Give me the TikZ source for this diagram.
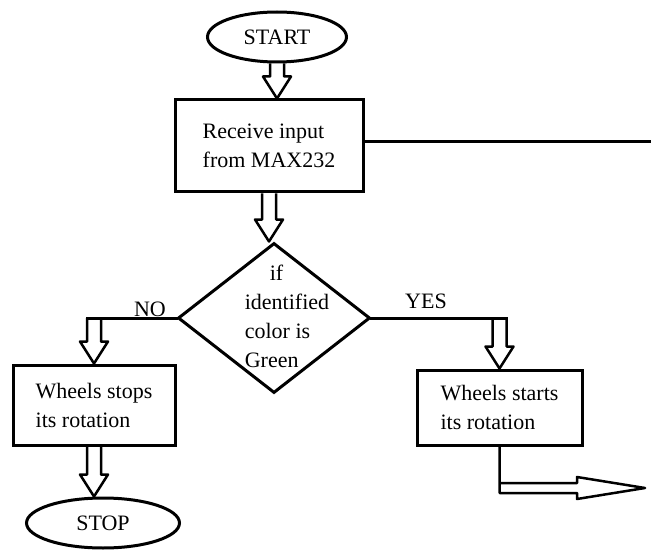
\documentclass[tikz,border=0pt]{standalone}
\usepackage{fontspec}
\setmainfont{Liberation Serif}
\usetikzlibrary{shapes.geometric,calc}
\newcommand\blkdown[2]{\draw[blk] let \p1=(#1),\p2=(#2) in (\x1-7pt,\y1) -- (\x1-7pt,\y2+22pt) -- (\x1-14pt,\y2+22pt) -- (\x1,\y2) -- (\x1+14pt,\y2+22pt) -- (\x1+7pt,\y2+22pt) -- (\x1+7pt,\y1);}
\begin{document}
\begin{tikzpicture}[x=1pt,y=-1pt,
  every node/.style={font=\fontsize{22}{29}\selectfont},
  term/.style={ellipse,draw,line width=3pt,inner sep=0pt},
  proc/.style={rectangle,draw,line width=3pt,align=left,inner sep=0pt},
  dec/.style={diamond,draw,line width=3pt,inner sep=0pt},
  lbl/.style={inner sep=0pt},
  wire/.style={line width=3pt,line cap=rect},
  blk/.style={line width=2.5pt,line join=round}]
\useasboundingbox (0,0) rectangle (651,559);
% nodes
\node[term,minimum width=139pt,minimum height=50pt] (start) at (277,37) {START};
\node[proc,minimum width=188pt,minimum height=92pt] (recv) at (269,146) {Receive input\\from MAX232};
\node[dec,minimum width=192pt,minimum height=150pt] (dec) at (274,318) {};
\node[lbl,align=left] (dtext) at (287,316) {\hspace*{25pt}if\\identified\\color is\\Green};
\node[proc,minimum width=162pt,minimum height=80pt] (stopbox) at (94,405) {Wheels stops\\its rotation};
\node[proc,minimum width=165pt,minimum height=75pt] (gobox) at (499.5,407.5) {Wheels starts\\its rotation};
\node[term,minimum width=153pt,minimum height=50pt] (stop) at (103,523) {STOP};
\node[lbl,anchor=base] (no) at (150,316) {NO};
\node[lbl,anchor=base] (yes) at (426,308) {YES};
% connectors
\blkdown{start.south}{recv.north}
\blkdown{recv.south}{dec.north}
\coordinate (rend) at (651,142);
\draw[wire] (recv.east |- rend) -- (rend);
\coordinate (nocorner) at (stopbox.north |- dec.west);
\draw[wire] (dec.west) -- ($(nocorner)+(-7,0)$);
\blkdown{nocorner}{stopbox.north}
\coordinate (yescorner) at (gobox.north |- dec.east);
\draw[wire] (dec.east) -- ($(yescorner)+(7,0)$);
\blkdown{yescorner}{gobox.north}
\blkdown{stopbox.south}{stop.north}
\coordinate (goend) at (645,488);
\draw[blk] let \p1=(gobox.south),\p2=(goend) in (\p1) -- (\x1,\y2-5pt) -- (\x2-68pt,\y2-5pt) -- (\x2-68pt,\y2-11pt) -- (\p2) -- (\x2-68pt,\y2+11pt) -- (\x2-68pt,\y2+5pt) -- (\x1+1pt,\y2+5pt);
\end{tikzpicture}
\end{document}
